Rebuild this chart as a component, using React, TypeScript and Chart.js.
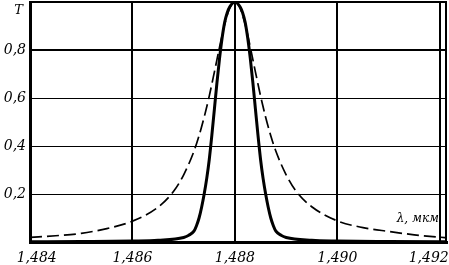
import React, { useEffect, useRef } from "react";
import { Chart, registerables } from "chart.js";

Chart.register(...registerables);

// Wavelength (µm) and transmission T for the dashed (wide) curve
const dashedLambda = [
  1.484, 1.4845, 1.485, 1.4855, 1.486, 1.4865, 1.4868, 1.487, 1.4872, 1.4873,
  1.4874, 1.4875, 1.4876, 1.4877, 1.4878, 1.4879, 1.488, 1.4881, 1.4882, 1.4883,
  1.4884, 1.4885, 1.4886, 1.4887, 1.4888, 1.489, 1.4892, 1.4895, 1.49, 1.4905,
  1.491, 1.4915, 1.492, 1.49214,
];
const dashedT = [
  0.019, 0.026, 0.036, 0.056, 0.087, 0.145, 0.21, 0.28, 0.378, 0.443,
  0.52, 0.609, 0.709, 0.812, 0.907, 0.975, 1.0, 0.975, 0.907, 0.812,
  0.709, 0.609, 0.52, 0.443, 0.378, 0.28, 0.21, 0.147, 0.088, 0.06,
  0.044, 0.03, 0.02, 0.018,
];

// Wavelength (µm) and transmission T for the solid (narrow) curve
const solidLambda = [
  1.484, 1.485, 1.486, 1.4865, 1.487, 1.4871, 1.4872, 1.48725, 1.4873, 1.48735,
  1.4874, 1.48745, 1.4875, 1.48755, 1.4876, 1.48765, 1.4877, 1.48775, 1.4878, 1.48785,
  1.4879, 1.488, 1.4881, 1.48815, 1.4882, 1.48825, 1.4883, 1.48835, 1.4884, 1.48845,
  1.4885, 1.48855, 1.4886, 1.48865, 1.4887, 1.48875, 1.4888, 1.4889, 1.489, 1.4895,
  1.49, 1.491, 1.492, 1.49214,
];
const solidT = [
  0.001, 0.002, 0.004, 0.007, 0.019, 0.028, 0.045, 0.068, 0.1, 0.145,
  0.2, 0.265, 0.345, 0.445, 0.555, 0.665, 0.765, 0.85, 0.915, 0.955,
  0.98, 1.0, 0.98, 0.955, 0.915, 0.85, 0.765, 0.665, 0.555, 0.445,
  0.345, 0.265, 0.2, 0.145, 0.1, 0.068, 0.045, 0.028, 0.019, 0.007,
  0.004, 0.002, 0.001, 0.001,
];

const xTicks = [1.484, 1.486, 1.488, 1.49, 1.492];
const yTicks = [0, 0.2, 0.4, 0.6, 0.8, 1.0];
const xMin = 1.484;
const xMax = 1.49214;
const yAxisTitle = "T";
const xAxisTitle = "λ, мкм";

const SHIFT = 4; // canvas shifted left so the y labels are cut as in the reference
const W = 449 + SHIFT;
const H = 265;
const FONT = "DejaVu Serif";

const fmt = (v: number, d: number) => v.toFixed(d).replace(".", ",");

export default function App() {
  const ref = useRef<HTMLCanvasElement | null>(null);

  useEffect(() => {
    if (!ref.current) return;
    const framePlugin = {
      id: "frameAndTitles",
      afterDraw(chart: any) {
        const { ctx, chartArea } = chart;
        ctx.save();
        ctx.strokeStyle = "#000";
        ctx.lineWidth = 2;
        ctx.beginPath();
        ctx.moveTo(chartArea.right - 1, chartArea.top - 1);
        ctx.lineTo(chartArea.right - 1, chartArea.bottom);
        ctx.stroke();
        ctx.fillStyle = "#000";
        ctx.font = `italic 13px "${FONT}"`;
        ctx.textAlign = "right";
        ctx.textBaseline = "alphabetic";
        ctx.fillText(yAxisTitle, 23 + SHIFT, 14);
        ctx.font = `italic 12px "${FONT}"`;
        ctx.fillText(xAxisTitle, 439 + SHIFT, 222);
        ctx.restore();
      },
    };

    const chart = new Chart(ref.current, {
      type: "line",
      data: {
        datasets: [
          {
            data: dashedLambda.map((x, i) => ({ x, y: dashedT[i] })),
            borderColor: "#000",
            borderWidth: 1.7,
            borderDash: [12, 5],
            pointRadius: 0,
            cubicInterpolationMode: "monotone",
            fill: false,
          },
          {
            data: solidLambda.map((x, i) => ({ x, y: solidT[i] })),
            borderColor: "#000",
            borderWidth: 3,
            pointRadius: 0,
            cubicInterpolationMode: "monotone",
            fill: false,
          },
        ],
      },
      options: {
        animation: false,
        responsive: false,
        devicePixelRatio: 1,
        layout: { padding: { left: 0, right: 2, top: 2, bottom: 0 } },
        plugins: { legend: { display: false }, tooltip: { enabled: false } },
        scales: {
          x: {
            type: "linear",
            min: xMin,
            max: xMax,
            afterBuildTicks: (s: any) => {
              s.ticks = xTicks.map((v) => ({ value: v }));
            },
            afterFit: (s: any) => {
              s.height = 23;
              s.paddingLeft = 0;
              s.paddingRight = 0;
              s.paddingTop = 0;
              s.paddingBottom = 0;
            },
            grid: { color: "#000", lineWidth: 2, drawTicks: false },
            border: { color: "#000", width: 3 },
            ticks: {
              color: "#000",
              padding: 8,
              maxRotation: 0,
              minRotation: 0,
              autoSkip: false,
              font: { family: FONT, style: "italic", size: 14 },
              callback: (v: any) => {
                const s = fmt(Number(v), 3);
                if (Math.abs(v - xTicks[0]) < 1e-9) return "   " + s;
                if (Math.abs(v - xTicks[xTicks.length - 1]) < 1e-9) return s + "     ";
                return s;
              },
            },
          },
          y: {
            type: "linear",
            min: 0,
            max: 1,
            afterBuildTicks: (s: any) => {
              s.ticks = yTicks.map((v) => ({ value: v }));
            },
            afterFit: (s: any) => {
              s.width = 30 + SHIFT;
              s.paddingLeft = 0;
              s.paddingRight = 0;
              s.paddingTop = 0;
              s.paddingBottom = 0;
            },
            grid: {
              color: "#000",
              drawTicks: false,
              lineWidth: (c: any) => {
                const v = c.tick ? c.tick.value : 0;
                return Math.abs(v - 0.8) < 1e-9 || Math.abs(v - 1) < 1e-9 ? 2 : 1;
              },
            },
            border: { color: "#000", width: 3 },
            ticks: {
              color: "#000",
              padding: 4,
              autoSkip: false,
              font: { family: FONT, style: "italic", size: 14 },
              callback: (v: any) => {
                const n = Number(v);
                if (n === 0 || n === 1) return "";
                return fmt(n, 1);
              },
            },
          },
        },
      },
      plugins: [framePlugin],
    } as any);
    return () => chart.destroy();
  }, []);

  return (
    <div style={{ position: "fixed", left: -SHIFT, top: 0, width: W, height: H, background: "#fff" }}>
      <canvas ref={ref} width={W} height={H} style={{ width: W, height: H, display: "block" }} />
    </div>
  );
}
